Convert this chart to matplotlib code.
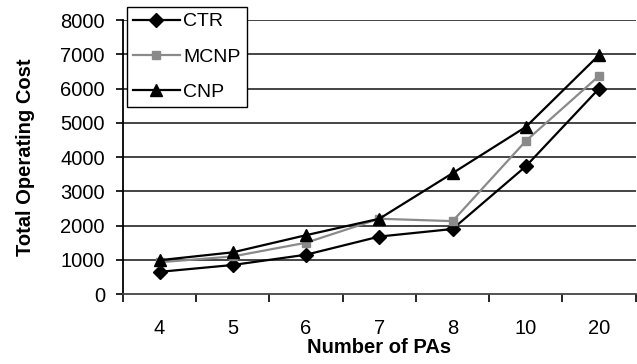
import matplotlib
matplotlib.use("Agg")
import matplotlib.pyplot as plt
import numpy as np

categories = ["4", "5", "6", "7", "8", "10", "20"]
ctr = [650, 850, 1150, 1680, 1900, 3730, 6000]
mcnp = [930, 1100, 1500, 2200, 2130, 4470, 6370]
cnp = [990, 1220, 1720, 2200, 3530, 4880, 6980]
yticks = [0, 1000, 2000, 3000, 4000, 5000, 6000, 7000, 8000]

plt.rcParams['font.family'] = ['Liberation Sans', 'DejaVu Sans']

fig = plt.figure(figsize=(6.37, 3.64), dpi=100)
ax = fig.add_axes([0.193, 0.192, 0.805, 0.753])

x = np.arange(len(categories))
ax.plot(x, ctr, color="black", marker="D", markersize=7, lw=1.6, label="CTR", zorder=3)
ax.plot(x, mcnp, color="#8a8a8a", marker="s", markersize=6, lw=1.6, label="MCNP", zorder=3)
ax.plot(x, cnp, color="black", marker="^", markersize=9, lw=1.6, label="CNP", zorder=3)

ax.set_xlim(-0.5, len(categories) - 0.5)
ax.set_ylim(0, 8000)
ax.set_yticks(yticks)
ax.set_yticklabels([str(v) for v in yticks], fontsize=14.5)
ax.set_xticks(x)
ax.set_xticklabels(categories, fontsize=14.5)
ax.tick_params(axis='x', which='major', length=0, pad=18)
ax.set_xticks(np.arange(-0.5, len(categories)), minor=True)
ax.tick_params(axis='x', which='minor', length=5.5, width=1.2, direction='out')
ax.tick_params(axis='y', length=5, width=1.2, direction='out', pad=8)

for v in yticks[1:]:
    ax.axhline(v, color="#444444", lw=1.4, zorder=1)

for s in ['top', 'right']:
    ax.spines[s].set_visible(False)
ax.spines['left'].set_linewidth(1.3)
ax.spines['bottom'].set_linewidth(1.3)
ax.spines['bottom'].set_color("#444444")

ax.set_xlabel("Number of PAs", fontsize=14.5, fontweight="bold", labelpad=0)
ax.set_ylabel("Total Operating Cost", fontsize=14.5, fontweight="bold", labelpad=18)

leg = fig.legend(loc="upper left", bbox_to_anchor=(127/637, 1 - 7/364), fontsize=14,
                 frameon=True, fancybox=False, edgecolor="black", framealpha=1,
                 borderpad=0.3, handlelength=2.4, labelspacing=0.9, handletextpad=0.2,
                 borderaxespad=0)
leg.get_frame().set_linewidth(1.0)

fig.savefig("out.png", dpi=100)
